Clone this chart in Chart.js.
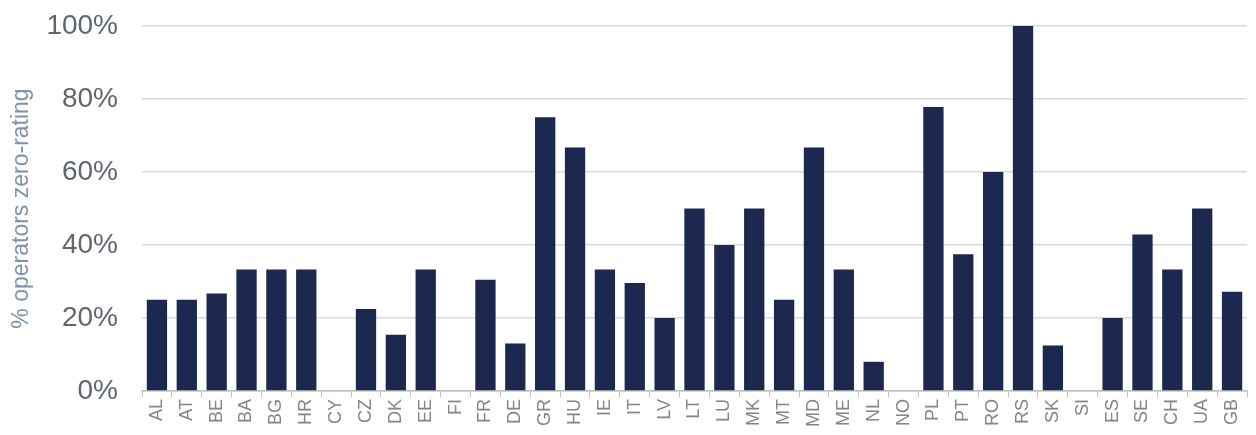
<!DOCTYPE html>
<html>
<head>
<meta charset="utf-8">
<script src="https://cdn.jsdelivr.net/npm/chart.js@4.4.1/dist/chart.umd.min.js"></script>
<style>
  html, body { margin: 0; padding: 0; background: #fff; }
  #wrap { width: 1256px; height: 435px; }
</style>
</head>
<body>
<div id="wrap"><canvas id="chart1" width="1256" height="435"></canvas></div>
<script>
// países e % de operadores com zero-rating
const countries = ['AL', 'AT', 'BE', 'BA', 'BG', 'HR', 'CY', 'CZ', 'DK', 'EE', 'FI', 'FR', 'DE', 'GR', 'HU', 'IE', 'IT', 'LV', 'LT', 'LU',
  'MK', 'MT', 'MD', 'ME', 'NL', 'NO', 'PL', 'PT', 'RO', 'RS', 'SK', 'SI', 'ES', 'SE', 'CH', 'UA', 'GB'];
const shares = [25, 25, 26.7, 33.3, 33.3, 33.3, 0, 22.5, 15.4, 33.3, 0, 30.5, 13, 75, 66.7, 33.3, 29.6, 20, 50, 40,
  50, 25, 66.7, 33.3, 8, 0, 77.8, 37.5, 60, 100, 12.5, 0, 20, 42.9, 33.3, 50, 27.2];
const yTicks = [0, 20, 40, 60, 80, 100];

Chart.defaults.font.family = '"Liberation Sans", Arial, sans-serif';

new Chart(document.getElementById('chart1'), {
  type: 'bar',
  data: {
    labels: countries,
    datasets: [{
      label: '% operators zero-rating',
      data: shares,
      backgroundColor: '#1c2850',
      barPercentage: 0.68,
      categoryPercentage: 1.0
    }]
  },
  options: {
    responsive: false,
    animation: false,
    layout: { padding: { top: 26, right: 9, left: 8, bottom: 0 } },
    plugins: { legend: { display: false }, tooltip: { enabled: false } },
    scales: {
      x: {
        offset: true,
        grid: { offset: true, drawOnChartArea: false, drawTicks: true, tickLength: 6, color: '#bfbfbf' },
        border: { color: '#bfbfbf', width: 1.5 },
        ticks: { minRotation: 90, maxRotation: 90, autoSkip: false, color: '#858585', font: { size: 18 }, padding: 2 },
        afterFit: (axis) => { axis.height = 44; axis.paddingLeft = 0; axis.paddingRight = 0; }
      },
      y: {
        min: 0,
        max: 100,
        afterBuildTicks: (axis) => { axis.ticks = yTicks.map(v => ({ value: v })); },
        grid: { color: '#d9d9d9', drawTicks: false, lineWidth: 1.5 },
        border: { display: false },
        ticks: { color: '#5f6670', font: { size: 28 }, padding: 24, callback: (v) => v + '%' },
        title: { display: true, text: '% operators zero-rating', color: '#7d92ab', font: { size: 23 }, padding: 0 },
        afterFit: (axis) => { axis.width = 134; axis.paddingTop = 0; axis.paddingBottom = 0; }
      }
    }
  }
});
</script>
</body>
</html>
